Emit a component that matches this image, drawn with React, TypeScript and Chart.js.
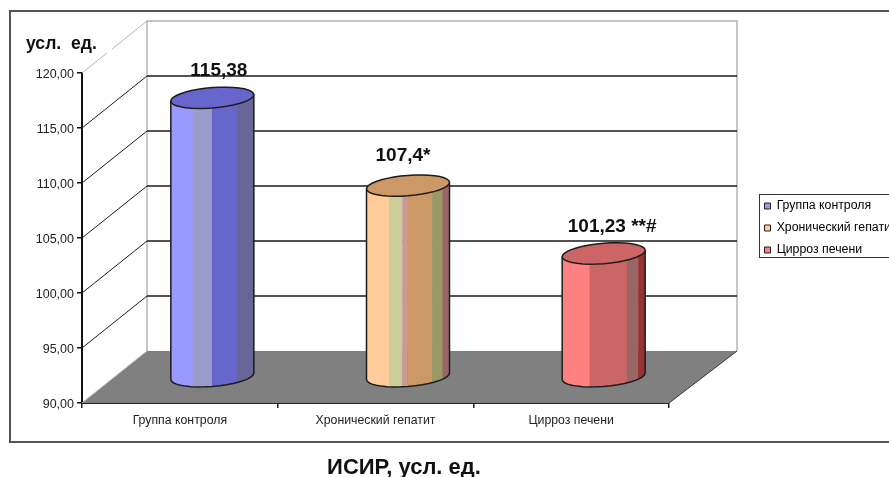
import { useEffect, useRef } from "react";
import { Chart, registerables } from "chart.js";

Chart.register(...registerables);

const categories = ["Группа контроля", "Хронический гепатит", "Цирроз печени"];
const values = [115.38, 107.4, 101.23];
const valueLabels = ["115,38", "107,4*", "101,23 **#"];
const legendColors = ["#9999FF", "#FFCC99", "#FF8080"];
const yTitle = "усл.  ед.";
const chartTitle = "ИСИР, усл. ед.";

// Vertical facets of each cylinder: colour and right edge as a share of its width.
const facets = [
  [["#9999FF", 0.265], ["#9C9CCC", 0.495], ["#6666CC", 0.795], ["#666699", 1]],
  [["#FFCC99", 0.27], ["#CCCC99", 0.43], ["#CC9999", 0.49], ["#CC9966", 0.79], ["#999966", 0.915], ["#996666", 1]],
  [["#FF8080", 0.33], ["#CC6666", 0.78], ["#996666", 0.915], ["#993333", 1]],
] as [string, number][][];
const capColors = ["#6666CC", "#CC9966", "#CC6666"];

const FONT = "'Liberation Sans', Arial, sans-serif";
const DEPTH_X = 65;
const DEPTH_Y = 52;
const CAP_RY = 10.2;
const CAP_TILT = 3.2;
const LABEL_SHIFT_X = [39, 27.5, 41];
const LABEL_RISE = [53, 56, 53];

const capPoint = (cx: number, cy: number, rx: number, t: number) => [
  cx + rx * Math.cos(t),
  cy + CAP_RY * Math.sin(t) - CAP_TILT * Math.cos(t),
];

function drawCylinder(ctx: CanvasRenderingContext2D, bar: any, i: number) {
  const { x, y, base, width } = bar.getProps(["x", "y", "base", "width"], true);
  const cx = x + DEPTH_X / 2;
  const rx = width / 2;
  const topY = y - DEPTH_Y / 2;
  const baseY = base - DEPTH_Y / 2;
  const steps = 18;

  // Side surface: outline runs down the left edge, along the lower rim, and up the right edge.
  const side = new Path2D();
  const tl = capPoint(cx, topY, rx, Math.PI);
  side.moveTo(tl[0], tl[1]);
  for (let s = 0; s <= steps; s++) {
    const p = capPoint(cx, baseY, rx, Math.PI - (Math.PI * s) / steps);
    side.lineTo(p[0], p[1]);
  }
  const tr = capPoint(cx, topY, rx, 0);
  side.lineTo(tr[0], tr[1]);

  ctx.save();
  ctx.save();
  ctx.clip(side);
  let from = cx - rx;
  for (const [color, end] of facets[i]) {
    const to = cx - rx + width * end;
    ctx.fillStyle = color;
    ctx.fillRect(from, topY - 20, to - from + 0.5, baseY - topY + 50);
    from = to;
  }
  ctx.restore();
  ctx.strokeStyle = "#1c1c1c";
  ctx.lineWidth = 1.5;
  ctx.stroke(side);

  const cap = new Path2D();
  for (let s = 0; s < steps * 2; s++) {
    const p = capPoint(cx, topY, rx, (Math.PI * s) / steps);
    if (s === 0) cap.moveTo(p[0], p[1]);
    else cap.lineTo(p[0], p[1]);
  }
  cap.closePath();
  ctx.fillStyle = capColors[i];
  ctx.fill(cap);
  ctx.stroke(cap);
  ctx.restore();
}

function line(ctx: CanvasRenderingContext2D, x1: number, y1: number, x2: number, y2: number) {
  ctx.beginPath();
  ctx.moveTo(x1, y1);
  ctx.lineTo(x2, y2);
  ctx.stroke();
}

// Frame, walls, floor and receding gridlines behind the columns, plus the moved legend and title.
const scenePlugin = {
  id: "scene",
  afterLayout(chart: any) {
    const legend = chart.legend;
    legend.left = 754.8;
    legend.right = 960;
    legend.top = 190.15;
    legend.bottom = 290;
    const title = chart.titleBlock;
    title.left = 254;
    title.right = 554;
    title.top += 0.5;
    title.bottom += 0.5;
  },
  beforeDatasetsDraw(chart: any) {
    const { ctx, chartArea: a, scales } = chart;
    const yScale = scales.y;
    const backRight = a.right + DEPTH_X + 3;
    const backLeft = a.left + DEPTH_X;
    const backBottom = a.bottom - DEPTH_Y;
    const backTop = a.top - DEPTH_Y;
    ctx.save();

    ctx.strokeStyle = "#555";
    ctx.lineWidth = 2;
    ctx.strokeRect(10, 11, 900, 431);

    ctx.strokeStyle = "#333";
    ctx.lineWidth = 1;
    ctx.strokeRect(759.5, 194.5, 160, 63);

    ctx.fillStyle = "#808080";
    ctx.beginPath();
    ctx.moveTo(a.left, a.bottom);
    ctx.lineTo(a.right, a.bottom);
    ctx.lineTo(backRight, backBottom);
    ctx.lineTo(backLeft, backBottom);
    ctx.closePath();
    ctx.fill();

    ctx.strokeStyle = "#b4b4b4";
    ctx.lineWidth = 1.5;
    ctx.beginPath();
    ctx.moveTo(backLeft, backBottom);
    ctx.lineTo(backLeft, backTop);
    ctx.lineTo(backRight, backTop);
    ctx.lineTo(backRight, backBottom);
    ctx.stroke();
    ctx.lineWidth = 1;
    line(ctx, a.left, a.bottom, backLeft, backBottom);
    line(ctx, a.left, a.top, backLeft, backTop);

    for (const tick of yScale.ticks) {
      if (tick.value === yScale.min || tick.value === yScale.max) continue;
      const py = yScale.getPixelForValue(tick.value);
      ctx.strokeStyle = "#1a1a1a";
      ctx.lineWidth = 1;
      line(ctx, a.left, py, backLeft, py - DEPTH_Y);
      ctx.lineWidth = 1.5;
      line(ctx, backLeft, py - DEPTH_Y, backRight, py - DEPTH_Y);
    }

    ctx.strokeStyle = "#333";
    ctx.lineWidth = 1;
    line(ctx, a.right, a.bottom, backRight, backBottom);

    // The axis caption sits on a white patch that interrupts the top wall edge.
    ctx.fillStyle = "#fff";
    ctx.fillRect(24, 32, 88, 21);
    ctx.fillStyle = "#111";
    ctx.font = `bold 17.6px ${FONT}`;
    ctx.textAlign = "left";
    ctx.textBaseline = "middle";
    ctx.fillText(yTitle, 26, 44);
    ctx.restore();
  },
  beforeDatasetDraw(chart: any, args: any) {
    const { ctx } = chart;
    args.meta.data.forEach((bar: any, i: number) => drawCylinder(ctx, bar, i));
    return false;
  },
  afterDatasetsDraw(chart: any) {
    const { ctx } = chart;
    const bars = chart.getDatasetMeta(0).data;
    ctx.save();
    ctx.fillStyle = "#111";
    ctx.font = `bold 19px ${FONT}`;
    ctx.textAlign = "center";
    ctx.textBaseline = "middle";
    bars.forEach((bar: any, i: number) => {
      ctx.fillText(valueLabels[i], bar.x + LABEL_SHIFT_X[i], bar.y - LABEL_RISE[i]);
    });
    ctx.restore();
  },
};

export default function App() {
  const ref = useRef<HTMLCanvasElement>(null);

  useEffect(() => {
    const chart = new Chart(ref.current!, {
      type: "bar",
      data: {
        labels: categories,
        datasets: [
          {
            data: values,
            base: 90,
            backgroundColor: legendColors,
            barThickness: 83,
          },
        ],
      },
      plugins: [scenePlugin],
      options: {
        animation: false,
        responsive: false,
        layout: {
          autoPadding: false,
          padding: { left: 0, right: 100, top: 73, bottom: 0 },
        },
        plugins: {
          tooltip: { enabled: false },
          legend: {
            position: "right",
            align: "start",
            maxWidth: 120,
            labels: {
              boxWidth: 6,
              boxHeight: 6,
              padding: 9.7,
              color: "#222",
              font: { family: FONT, size: 12.3 },
              generateLabels: () =>
                categories.map((text, i) => ({
                  text,
                  fillStyle: legendColors[i],
                  strokeStyle: "#222",
                  lineWidth: 1,
                  datasetIndex: 0,
                  index: i,
                })),
            },
          },
          title: {
            display: true,
            position: "bottom",
            text: chartTitle,
            color: "#111",
            padding: 0,
            font: { family: FONT, size: 22, weight: "bold", lineHeight: "20px" },
          },
        },
        scales: {
          x: {
            afterFit: (scale: any) => {
              scale.height = 54;
            },
            border: { color: "#222", width: 2 },
            grid: { drawOnChartArea: false, tickLength: 5, color: "#222", lineWidth: 1.5 },
            ticks: {
              color: "#222",
              padding: 5,
              maxRotation: 0,
              font: { family: FONT, size: 12.3 },
            },
          },
          y: {
            min: 90,
            max: 120,
            afterFit: (scale: any) => {
              scale.width = 82;
            },
            border: { color: "#111", width: 2 },
            grid: { drawOnChartArea: false, tickLength: 5, color: "#111", lineWidth: 1.5 },
            ticks: {
              stepSize: 5,
              color: "#222",
              padding: 3,
              labelOffset: 1.5,
              font: { family: FONT, size: 12.5 },
              callback: (v: any) => Number(v).toFixed(2).replace(".", ","),
            },
          },
        },
      },
    } as any);
    return () => chart.destroy();
  }, []);

  return (
    <div style={{ position: "fixed", left: 0, top: 0, width: 889, height: 477, overflow: "hidden", background: "#fff" }}>
      <canvas ref={ref} width={889} height={477} style={{ display: "block" }} />
    </div>
  );
}
